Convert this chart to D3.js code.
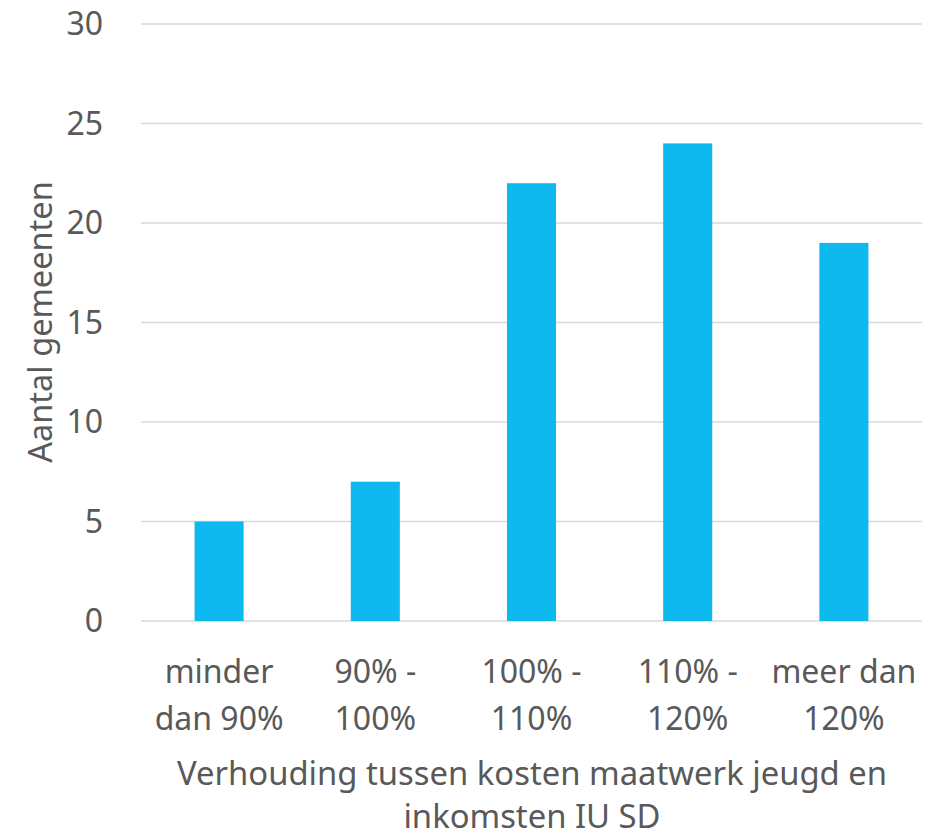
<!DOCTYPE html>
<html>
<head>
<meta charset="utf-8">
<script src="https://cdn.jsdelivr.net/npm/d3@7"></script>
<style>
  body { margin: 0; background: #fff; }
  text { font-family: 'Noto Sans', sans-serif; fill: #595959; }
</style>
</head>
<body>
<script>
// categories and counts
var categories = ['minder dan 90%', '90% - 100%', '100% - 110%', '110% - 120%', 'meer dan 120%'];
var categoryLines = [['minder', 'dan 90%'], ['90% -', '100%'], ['100% -', '110%'], ['110% -', '120%'], ['meer dan', '120%']];
var counts = [5, 7, 22, 24, 19];
var yTicks = [0, 5, 10, 15, 20, 25, 30];
var xTitle = ['Verhouding tussen kosten maatwerk jeugd en', 'inkomsten IU SD'];
var yTitle = 'Aantal gemeenten';

var width = 930, height = 832;
var plotLeft = 141, plotRight = 922, plotTop = 24, plotBottom = 621;

var svg = d3.select('body').append('svg')
    .attr('width', width)
    .attr('height', height);

var x = d3.scaleBand().domain(categories).range([plotLeft, plotRight])
    .paddingInner(0.686).paddingOuter(0.343);
var y = d3.scaleLinear().domain([0, 30]).range([plotBottom, plotTop]);

// gridlines
svg.append('g').selectAll('line')
    .data(yTicks)
    .enter()
    .append('line')
    .attr('x1', plotLeft)
    .attr('x2', plotRight)
    .attr('y1', function (d) { return y(d); })
    .attr('y2', function (d) { return y(d); })
    .attr('stroke', '#d9d9d9')
    .attr('stroke-width', 1.5);

// y tick labels
svg.append('g').selectAll('text')
    .data(yTicks)
    .enter()
    .append('text')
    .attr('x', 103)
    .attr('y', function (d) { return y(d); })
    .attr('dy', '0.35em')
    .attr('text-anchor', 'end')
    .style('font-size', '32px')
    .text(function (d) { return d; });

// bars
svg.append('g').selectAll('rect')
    .data(counts)
    .enter()
    .append('rect')
    .attr('x', function (d, i) { return x(categories[i]); })
    .attr('width', x.bandwidth())
    .attr('y', function (d) { return y(d); })
    .attr('height', function (d) { return y(0) - y(d); })
    .attr('fill', '#0db9ee');

// category labels
var cat = svg.append('g').selectAll('text')
    .data(categoryLines)
    .enter()
    .append('text')
    .attr('text-anchor', 'middle')
    .style('font-size', '32px');
cat.selectAll('tspan')
    .data(function (d, i) { return d.map(function (s) { return { s: s, c: categories[i] }; }); })
    .enter()
    .append('tspan')
    .attr('x', function (d) { return x(d.c) + x.bandwidth() / 2; })
    .attr('y', function (d, j) { return 683 + j * 47; })
    .text(function (d) { return d.s; });

// x axis title
svg.append('text')
    .attr('text-anchor', 'middle')
    .style('font-size', '32.8px')
    .selectAll('tspan')
    .data(xTitle)
    .enter()
    .append('tspan')
    .attr('x', 532)
    .attr('y', function (d, i) { return 785 + i * 43; })
    .text(function (d) { return d; });

// y axis title
svg.append('text')
    .attr('transform', 'translate(52,' + 322 + ') rotate(-90)')
    .attr('text-anchor', 'middle')
    .style('font-size', '32.5px')
    .text(yTitle);
</script>
</body>
</html>
